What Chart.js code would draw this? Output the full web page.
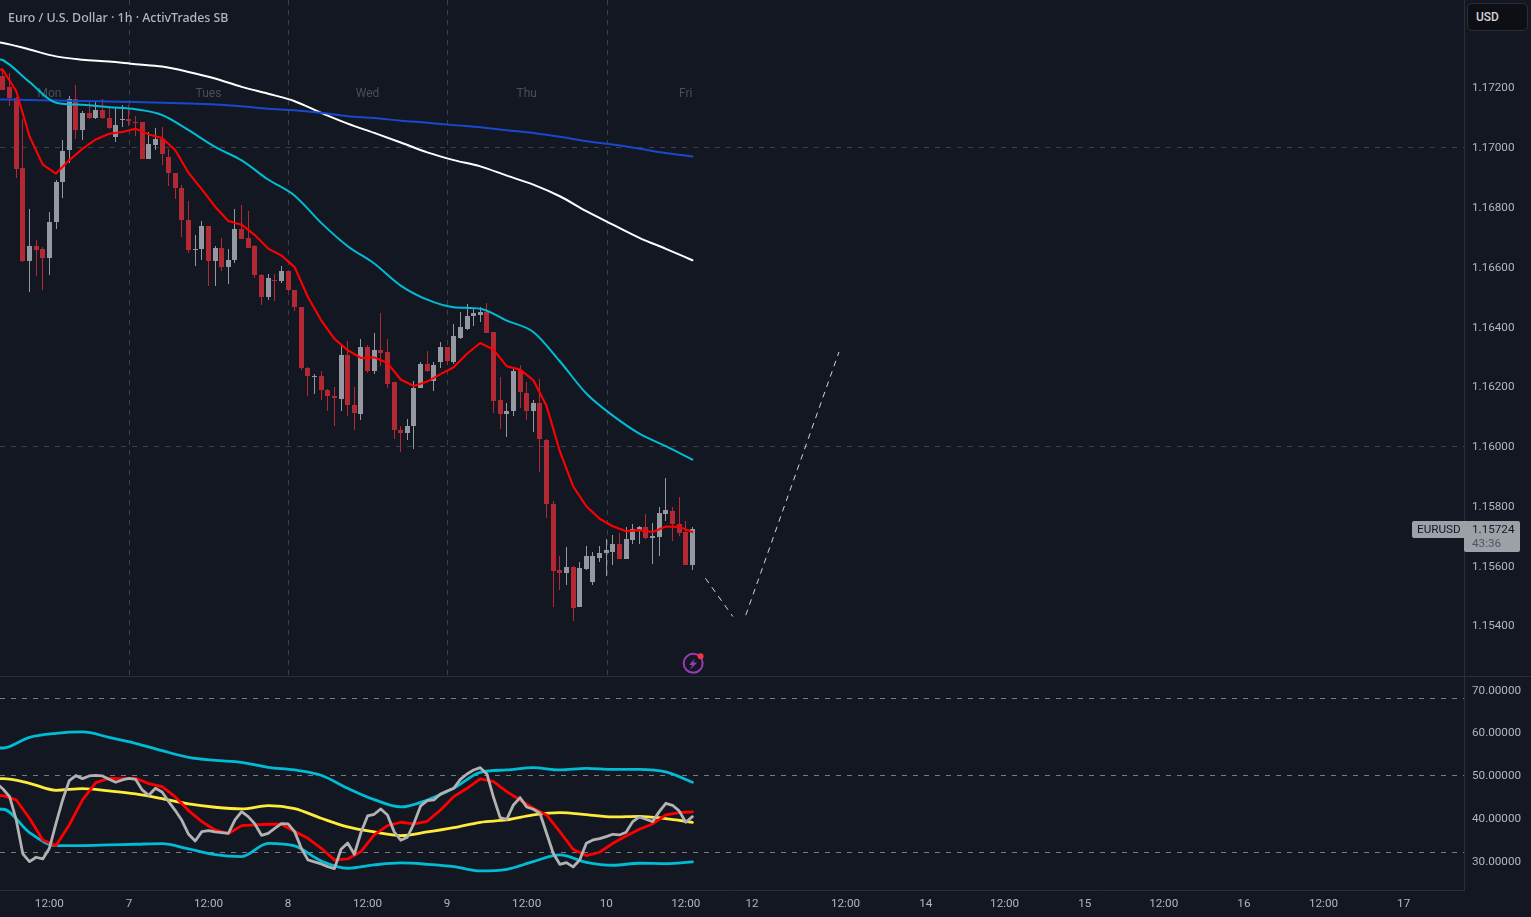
<!DOCTYPE html>
<html>
<head>
<meta charset="utf-8">
<title>EURUSD 1h</title>
<script src="https://cdn.jsdelivr.net/npm/chart.js@4"></script>
<style>
  html, body { margin: 0; padding: 0; background: #131722; overflow: hidden; }
  #page { position: relative; width: 1531px; height: 917px; }
  canvas { position: absolute; left: 0; display: block; }
  #precio { top: 0; }
  #rsi { top: 677px; }
  #separador { position: absolute; left: 0; top: 676px; width: 1531px; height: 1px; background: #2a2e39; }
  #titulo { position: absolute; left: 8px; top: 9px; font: 500 12.4px "Noto Sans", sans-serif; color: #b2b5be; white-space: nowrap; }
  #moneda { position: absolute; left: 1467px; top: 3px; width: 59px; height: 26px; background: #0d0f14; border: 1px solid #2a2e39; border-radius: 5px; font: 500 12px/27px Roboto, sans-serif; color: #d1d4dc; text-indent: 8px; }
</style>
</head>
<body>
<div id="page">
  <canvas id="precio" width="1531" height="677"></canvas>
  <canvas id="rsi" width="1531" height="240"></canvas>
  <div id="separador"></div>
  <div id="titulo">Euro / U.S. Dollar · 1h · ActivTrades SB</div>
  <div id="moneda">USD</div>
</div>
<script>
// hourly candles, one entry per bar
const opens = [1.17241,1.17201,1.17167,1.16930,1.16620,1.16672,1.16659,1.16630,1.16750,1.16884,
  1.16991,1.17164,1.17058,1.17116,1.17098,1.17125,1.17100,1.17035,1.17092,1.17094,
  1.17087,1.17084,1.16961,1.17010,1.17027,1.16970,1.16916,1.16863,1.16759,1.16657,
  1.16659,1.16739,1.16620,1.16665,1.16600,1.16623,1.16726,1.16699,1.16669,1.16575,
  1.16499,1.16558,1.16552,1.16588,1.16522,1.16468,1.16264,1.16235,1.16237,1.16190,
  1.16170,1.16160,1.16307,1.16140,1.16108,1.16334,1.16254,1.16324,1.16317,1.16214,
  1.16056,1.16046,1.16068,1.16197,1.16277,1.16220,1.16281,1.16334,1.16284,1.16364,
  1.16394,1.16436,1.16441,1.16451,1.16384,1.16154,1.16107,1.16118,1.16257,1.16180,
  1.16118,1.16147,1.16023,1.15809,1.15585,1.15576,1.15598,1.15462,1.15591,1.15546,
  1.15628,1.15642,1.15648,1.15672,1.15623,1.15688,1.15722,1.15732,1.15695,1.15698,
  1.15775,1.15785,1.15742,1.15715,1.15605]
const highs = [1.17267,1.17250,1.17170,1.17094,1.16793,1.16692,1.16668,1.16786,1.16893,1.17024,
  1.17174,1.17208,1.17121,1.17157,1.17154,1.17163,1.17138,1.17132,1.17141,1.17141,
  1.17107,1.17084,1.17052,1.17066,1.17069,1.16996,1.16916,1.16875,1.16822,1.16709,
  1.16755,1.16739,1.16670,1.16698,1.16659,1.16795,1.16809,1.16789,1.16675,1.16577,
  1.16578,1.16578,1.16605,1.16588,1.16525,1.16468,1.16266,1.16244,1.16251,1.16193,
  1.16200,1.16341,1.16354,1.16200,1.16361,1.16338,1.16378,1.16445,1.16361,1.16217,
  1.16067,1.16093,1.16220,1.16281,1.16321,1.16281,1.16348,1.16334,1.16408,1.16451,
  1.16475,1.16461,1.16468,1.16481,1.16384,1.16231,1.16144,1.16267,1.16271,1.16217,
  1.16157,1.16224,1.16026,1.15816,1.15632,1.15662,1.15601,1.15615,1.15668,1.15648,
  1.15668,1.15692,1.15705,1.15712,1.15729,1.15739,1.15735,1.15775,1.15745,1.15796,
  1.15893,1.15799,1.15832,1.15749,1.15729]
const lows = [1.17192,1.17138,1.16897,1.16616,1.16516,1.16570,1.16523,1.16573,1.16726,1.16831,
  1.16949,1.17027,1.17025,1.17094,1.17094,1.17094,1.17062,1.17018,1.17068,1.17071,
  1.17040,1.16961,1.16960,1.16993,1.16941,1.16870,1.16827,1.16700,1.16648,1.16603,
  1.16625,1.16536,1.16536,1.16586,1.16543,1.16614,1.16695,1.16663,1.16563,1.16472,
  1.16489,1.16488,1.16548,1.16519,1.16452,1.16257,1.16168,1.16174,1.16157,1.16118,
  1.16068,1.16118,1.16103,1.16056,1.16088,1.16247,1.16242,1.16268,1.16197,1.16026,
  1.15980,1.16023,1.15990,1.16197,1.16250,1.16187,1.16264,1.16274,1.16277,1.16361,
  1.16388,1.16402,1.16418,1.16381,1.16111,1.16060,1.16030,1.16103,1.16127,1.16090,
  1.16050,1.15913,1.15762,1.15464,1.15521,1.15538,1.15417,1.15462,1.15585,1.15538,
  1.15615,1.15566,1.15605,1.15623,1.15623,1.15672,1.15672,1.15692,1.15608,1.15635,
  1.15752,1.15685,1.15699,1.15605,1.15588]
const closes = [1.17194,1.17167,1.16928,1.16620,1.16672,1.16657,1.16630,1.16752,1.16886,1.16987,
  1.17163,1.17058,1.17116,1.17098,1.17125,1.17098,1.17065,1.17074,1.17094,1.17088,
  1.17085,1.16961,1.17013,1.17027,1.16977,1.16914,1.16864,1.16757,1.16657,1.16662,
  1.16739,1.16620,1.16665,1.16600,1.16625,1.16726,1.16695,1.16665,1.16573,1.16499,
  1.16562,1.16553,1.16588,1.16522,1.16466,1.16261,1.16235,1.16237,1.16188,1.16168,
  1.16161,1.16307,1.16138,1.16111,1.16334,1.16254,1.16324,1.16311,1.16210,1.16054,
  1.16046,1.16070,1.16197,1.16277,1.16251,1.16274,1.16334,1.16287,1.16368,1.16398,
  1.16438,1.16445,1.16450,1.16381,1.16151,1.16107,1.16120,1.16254,1.16181,1.16118,
  1.16147,1.16024,1.15807,1.15583,1.15576,1.15598,1.15458,1.15595,1.15635,1.15632,
  1.15645,1.15652,1.15675,1.15623,1.15692,1.15725,1.15732,1.15695,1.15702,1.15779,
  1.15789,1.15739,1.15709,1.15605,1.15724]

// moving averages on price, fast one on even bars, slow ones on every fourth bar
const fastBars = [-1,0,2,4,6,8,10,12,14,16,18,20,22,24,26,28,30,32,34,36,38,40,42,44,46,48,50,52,54,
  56,58,60,62,64,66,68,70,72,74,76,78,80,82,84,86,88,90,92,94,96,98,100,102,104]
const slowBars = [-1,0,4,8,12,16,20,24,28,32,36,40,44,48,52,56,60,64,68,72,76,80,84,88,92,96,100,104]
const maRed = [1.17264,1.17259,1.17189,1.17038,1.16943,1.16913,1.16958,1.16996,1.17027,1.17046,1.17052,1.17063,1.17044,
  1.17032,1.16991,1.16915,1.16860,1.16802,1.16754,1.16742,1.16707,1.16662,1.16639,1.16600,1.16500,1.16422,1.16360,
  1.16322,1.16296,1.16298,1.16279,1.16224,1.16202,1.16217,1.16242,1.16265,1.16310,1.16346,1.16324,1.16268,1.16257,
  1.16222,1.16135,1.15984,1.15867,1.15800,1.15758,1.15733,1.15716,1.15720,1.15714,1.15732,1.15731,1.15714]
const maCyan = [1.17296,1.17292,1.17219,1.17150,1.17143,1.17135,1.17128,1.17109,1.17058,1.17002,1.16957,1.16893,1.16839,
  1.16748,1.16670,1.16612,1.16538,1.16491,1.16466,1.16461,1.16421,1.16383,1.16285,1.16177,1.16103,1.16043,1.16001,1.15956]
const maWhite = [1.17352,1.17350,1.17328,1.17305,1.17294,1.17288,1.17279,1.17271,1.17253,1.17231,1.17203,1.17180,1.17155,
  1.17116,1.17080,1.17049,1.17017,1.16984,1.16958,1.16937,1.16906,1.16876,1.16837,1.16787,1.16742,1.16698,1.16661,1.16623]
const maBlue = [1.17161,1.17161,1.17159,1.17157,1.17156,1.17154,1.17152,1.17150,1.17147,1.17144,1.17138,1.17130,1.17125,
  1.17116,1.17105,1.17099,1.17090,1.17083,1.17075,1.17068,1.17058,1.17049,1.17036,1.17021,1.17010,1.16996,1.16982,1.16970]

// projected path after the last bar
const pathDownBars = [106,110.07]
const pathDownPrices = [1.15558,1.15432]
const pathUpBars = [112.07,126.1]
const pathUpPrices = [1.15437,1.16315]

// rsi pane, the grey line has one value per bar starting at bar -1
const rsiGrey = [48.17,46.84,45.05,39.59,31.64,29.85,30.86,30.47,32.97,38.81,44.27,48.79,49.96,49.26,49.88,50.04,49.88,49.10,48.40,
  48.95,49.34,49.10,46.61,45.36,47.00,46.14,43.88,41.78,39.44,36.24,34.68,36.86,37.10,36.78,36.63,36.47,39.59,41.54,40.37,38.66,
  36.00,36.47,37.64,38.74,38.66,36.86,32.97,30.24,29.77,29.30,28.68,28.21,32.73,34.21,31.56,36.63,40.53,40.92,42.17,40.76,36.86,
  34.84,35.54,38.81,42.87,44.11,44.27,45.67,46.38,47.00,49.10,50.35,51.29,51.83,50.35,44.89,40.14,39.75,43.10,44.82,42.63,42.09,
  41.15,36.47,31.80,29.22,29.61,28.60,30.24,34.13,34.91,35.23,35.69,36.24,36.08,36.71,39.20,40.29,39.75,39.20,41.54,43.49,43.02,
  41.70,39.05,40.37]
const rsiRed = [45.28,45.28,44.27,39.98,34.91,33.59,38.42,44.27,48.33,49.34,49.26,49.34,48.09,47.39,44.97,41.78,39.20,37.25,36.40,
  38.27,38.42,38.58,38.58,36.86,35.30,32.97,30.24,30.47,32.19,36.08,38.27,39.05,38.66,39.28,41.93,45.05,47.00,49.18,48.56,46.22,
  44.27,42.32,40.76,36.86,32.73,31.25,32.03,34.13,35.85,37.41,38.66,40.76,41.31,41.47]
const rsiYellow = [49.26,49.26,48.17,46.53,46.92,46.38,45.67,44.58,43.34,42.56,42.17,42.95,42.24,39.98,37.96,36.78,35.93,36.78,
  37.80,39.05,39.59,40.76,41.31,40.84,40.29,40.45,39.90,39.05]
const rsiUpper = [56.43,56.43,58.93,59.86,60.18,58.93,57.53,55.81,54.25,53.55,53.08,51.91,51.29,50.04,47.00,44.35,42.63,44.27,
  47.00,50.74,51.29,51.83,51.29,51.68,51.44,51.44,50.82,48.40]
const rsiLower = [42.09,42.09,36.63,33.59,33.59,33.75,33.90,34.06,32.81,31.48,31.02,34.13,33.51,30.00,28.29,29.07,29.53,29.22,
  28.68,27.66,28.05,29.85,31.41,29.69,28.99,29.46,29.38,29.77]

// axes and labels
const priceTicks = [1.172,1.170,1.168,1.166,1.164,1.162,1.160,1.158,1.156,1.154]
const priceLevels = [1.17,1.16]
const rsiTicks = [70,60,50,40,30]
const rsiLevels = [68,50,32]
const dayBars = [19.1,43,67,91.2]
const dayNames = ['Mon','Tues','Wed','Thu','Fri']
const dayNameBars = [7,31,55,79,103]
const timeBars = [7,19,31,43,55,67,79,91,103,113,127.1,139.2,151.1,163.2,175.1,187.2,199.2,211.3]
const timeLabels = ['12:00','7','12:00','8','12:00','9','12:00','10','12:00','12','12:00','14','12:00','15','12:00','16','12:00','17']

const firstBarEdge = -0.45
const lastBarEdge = 220.4
const upColor = '#9598a1'
const downColor = '#b22833'
const axisColor = '#2a2e39'
const textColor = '#b2b5be'

Chart.defaults.font.family = 'Roboto, sans-serif'
Chart.defaults.font.size = 11.7
Chart.defaults.animation = false

function toPoints(bars, values) {
  return bars.map((x, i) => ({ x: x, y: values[i] }))
}

function lineSet(points, color, width, order, dash) {
  return {
    type: 'line',
    data: points,
    borderColor: color,
    borderWidth: width,
    borderDash: dash || [],
    borderCapStyle: 'round',
    borderJoinStyle: 'round',
    pointRadius: 0,
    tension: 0,
    order: order
  }
}

// slow averages are sampled sparsely, so they get a curve between samples
function slowSet(points, color, width, order) {
  const set = lineSet(points, color, width, order)
  set.cubicInterpolationMode = 'monotone'
  return set
}

const candleColors = closes.map((c, i) => c >= opens[i] ? upColor : downColor)

function barSet(pairs, thickness, order) {
  return {
    type: 'bar',
    data: pairs.map((p, i) => ({ x: i, y: p })),
    backgroundColor: candleColors,
    barThickness: thickness,
    grouped: false,
    borderWidth: 0,
    inflateAmount: 0,
    order: order
  }
}

// keep wicks and bodies on whole pixels
const crispBars = {
  id: 'crispBars',
  beforeDatasetDraw(chart, args) {
    const meta = chart.getDatasetMeta(args.index)
    if (meta.type !== 'bar') return
    meta.data.forEach((el) => {
      el.x = Math.floor(el.x) + 0.5
      el.y = Math.round(el.y)
      el.base = Math.round(el.base)
      if (el.base === el.y) el.base = el.y + 1
    })
  }
}

// weekday names sit behind the lines
const dayNamesLayer = {
  id: 'dayNamesLayer',
  beforeDatasetsDraw(chart) {
    const ctx = chart.ctx
    ctx.save()
    ctx.font = '12px Roboto, sans-serif'
    ctx.fillStyle = '#4a4e59'
    ctx.textAlign = 'center'
    ctx.textBaseline = 'middle'
    const y = chart.scales.y.getPixelForValue(1.17184)
    dayNames.forEach((name, i) => {
      ctx.fillText(name, chart.scales.x.getPixelForValue(dayNameBars[i]), y + 1)
    })
    ctx.restore()
  }
}

// last price tag on the axis and the alert badge under the last bar
const lastPriceTag = {
  id: 'lastPriceTag',
  afterDraw(chart) {
    const ctx = chart.ctx
    const last = closes[closes.length - 1]
    const y = chart.scales.y.getPixelForValue(last)
    const right = chart.chartArea.right
    ctx.save()
    ctx.fillStyle = '#9ea0a7'
    ctx.beginPath()
    ctx.roundRect(right - 52, y - 8, 52, 17, [2, 0, 0, 2])
    ctx.fill()
    ctx.beginPath()
    ctx.roundRect(right, y - 8, 56, 31, [0, 2, 2, 2])
    ctx.fill()
    ctx.font = '11.7px Roboto, sans-serif'
    ctx.textBaseline = 'middle'
    ctx.fillStyle = '#131722'
    ctx.fillText('EURUSD', right - 47, y + 1)
    ctx.fillText(last.toFixed(5), right + 8, y + 1)
    ctx.fillStyle = '#4f5360'
    ctx.fillText('43:36', right + 8, y + 15)

    const bx = chart.scales.x.getPixelForValue(104) + 0.8
    const by = 663.3
    ctx.strokeStyle = '#9c3bb5'
    ctx.lineWidth = 2
    ctx.beginPath()
    ctx.arc(bx, by, 9.5, 0, Math.PI * 2)
    ctx.stroke()
    ctx.fillStyle = '#9c3bb5'
    ctx.beginPath()
    ctx.moveTo(bx + 1.7, by - 5)
    ctx.lineTo(bx - 4, by + 1.7)
    ctx.lineTo(bx - 0.7, by + 1.7)
    ctx.lineTo(bx - 3.3, by + 6.7)
    ctx.lineTo(bx + 4, by - 0.7)
    ctx.lineTo(bx, by - 0.7)
    ctx.closePath()
    ctx.fill()
    ctx.fillStyle = '#f23645'
    ctx.beginPath()
    ctx.arc(bx + 7.4, by - 7, 3, 0, Math.PI * 2)
    ctx.fill()
    ctx.restore()
  }
}

// levels become dashed grid lines, a level without a tick gets an empty label
function rightAxis(min, max, ticks, levels, levelColor, digits) {
  const values = ticks.concat(levels.filter((v) => !ticks.includes(v)))
  return {
    position: 'right',
    min: min,
    max: max,
    // labels may overhang the pane, so no room is reserved for them
    afterFit: (scale) => {
      scale.width = 67
      scale.paddingTop = 0
      scale.paddingBottom = 0
    },
    afterBuildTicks: (scale) => { scale.ticks = values.map((v) => ({ value: v })) },
    grid: {
      drawTicks: false,
      offset: false,
      color: (ctx) => levels.includes(ctx.tick.value) ? levelColor : 'transparent'
    },
    border: { display: true, color: axisColor, dash: [5, 6] },
    ticks: {
      autoSkip: false,
      color: textColor,
      crossAlign: 'near',
      padding: 8,
      labelOffset: 0.7,
      callback: (v) => ticks.includes(v) ? Number(v).toFixed(digits) : ''
    }
  }
}

new Chart(document.getElementById('precio'), {
  data: {
    datasets: [
      lineSet(toPoints(fastBars, maRed), '#ff0000', 2.1, 1),
      slowSet(toPoints(slowBars, maCyan), '#00bcd4', 2, 2),
      slowSet(toPoints(slowBars, maBlue), '#1848cc', 2, 3),
      slowSet(toPoints(slowBars, maWhite), '#ffffff', 2, 4),
      lineSet(toPoints(pathDownBars, pathDownPrices), '#d1d4dc', 1, 5, [5, 6]),
      lineSet(toPoints(pathUpBars, pathUpPrices), '#d1d4dc', 1, 5, [5, 6]),
      barSet(opens.map((o, i) => [o, closes[i]]), 5, 10),
      barSet(lows.map((l, i) => [l, highs[i]]), 1, 11)
    ]
  },
  options: {
    responsive: false,
    events: [],
    layout: { padding: 0, autoPadding: false },
    plugins: { legend: { display: false }, tooltip: { enabled: false } },
    scales: {
      x: {
        type: 'linear',
        offset: false,
        min: firstBarEdge,
        max: lastBarEdge,
        afterFit: (scale) => { scale.height = 0 },
        afterBuildTicks: (scale) => { scale.ticks = dayBars.map((v) => ({ value: v })) },
        grid: { color: '#3c404b', drawTicks: false, offset: false },
        border: { display: false, dash: [5, 5] },
        ticks: { display: false, autoSkip: false }
      },
      y: rightAxis(1.152287, 1.174936, priceTicks, priceLevels, '#3c404b', 5)
    }
  },
  plugins: [crispBars, dayNamesLayer, lastPriceTag]
})

new Chart(document.getElementById('rsi'), {
  data: {
    datasets: [
      lineSet(rsiGrey.map((v, i) => ({ x: i - 1, y: v })), '#b2b2b2', 2.8, 1),
      lineSet(toPoints(fastBars, rsiRed), '#ff0000', 2.8, 2),
      slowSet(toPoints(slowBars, rsiYellow), '#ffeb3b', 2.8, 3),
      slowSet(toPoints(slowBars, rsiUpper), '#00bcd4', 2.8, 4),
      slowSet(toPoints(slowBars, rsiLower), '#00bcd4', 2.8, 5)
    ]
  },
  options: {
    responsive: false,
    events: [],
    layout: { padding: 0, autoPadding: false },
    plugins: { legend: { display: false }, tooltip: { enabled: false } },
    scales: {
      x: {
        type: 'linear',
        offset: false,
        min: firstBarEdge,
        max: lastBarEdge,
        afterFit: (scale) => { scale.height = 27 },
        afterBuildTicks: (scale) => { scale.ticks = timeBars.map((v) => ({ value: v })) },
        grid: { display: false, drawTicks: false, offset: false },
        border: { display: true, color: axisColor },
        ticks: {
          autoSkip: false,
          maxRotation: 0,
          color: textColor,
          padding: 7,
          callback: (v, i) => timeLabels[i]
        }
      },
      y: rightAxis(23.2, 73.04, rsiTicks, rsiLevels, '#787b86', 5)
    }
  }
})
</script>
</body>
</html>
